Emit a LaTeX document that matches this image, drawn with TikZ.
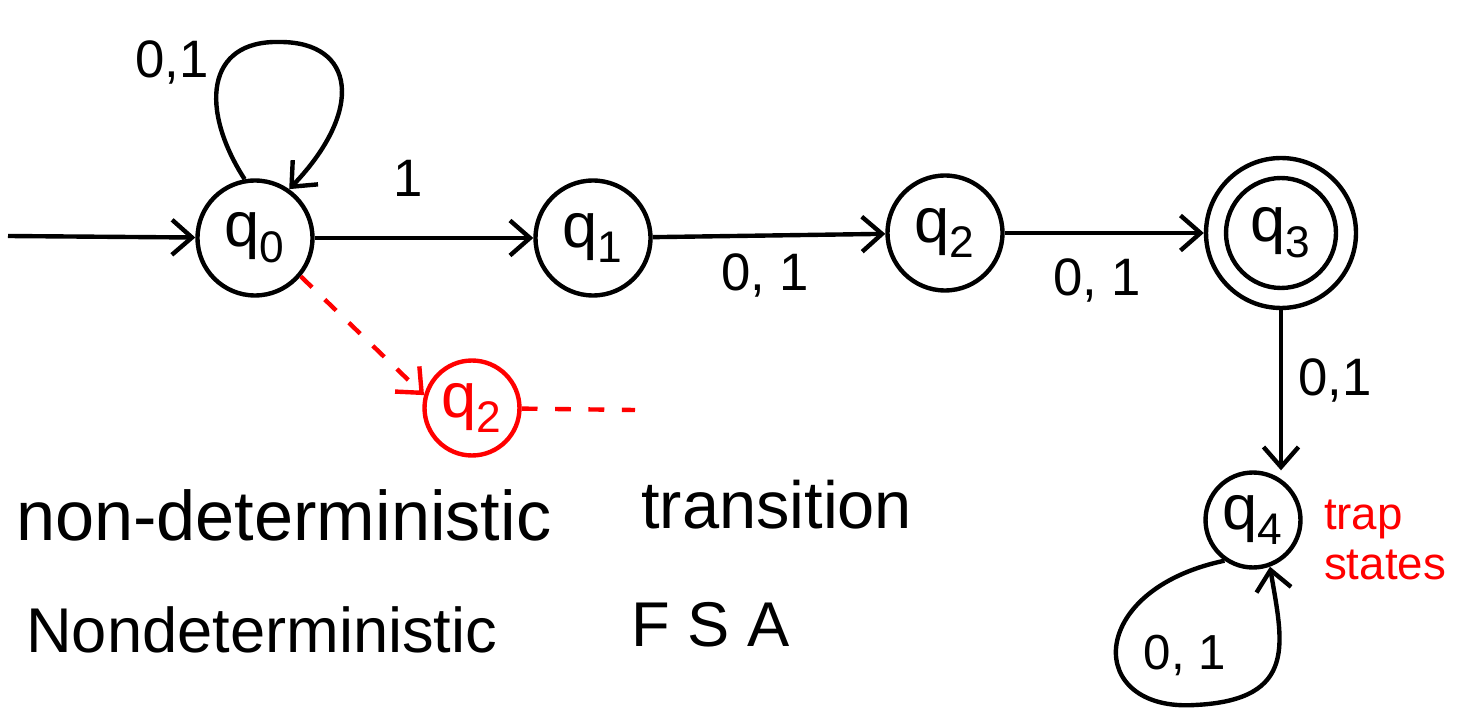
\documentclass[tikz,border=0pt]{standalone}
\usepackage{fontspec}
\setmainfont{Liberation Sans}
\usetikzlibrary{positioning, arrows.meta}

\begin{document}
\begin{tikzpicture}[
                x=0.02cm, y=-0.02cm,
                every node/.style={
                        font=\fontsize{30}{36}\selectfont
                    },
                state/.style={
                        draw,
                        circle,
                        line width=2.5pt,
                        minimum size=2.3cm,
                        inner sep=0pt,
                        font=\fontsize{36}{40}\selectfont
                    },
                edge/.style={
                        line width=2.5pt,
                        -{Straight Barb[length=4mm, width=7mm]}
                    },
                reddash/.style={
                        red,
                        dash pattern=on 9pt off 10pt
                    },
                note/.style={
                        text=red,
                        align=left,
                        font=\fontsize{26}{28}\selectfont
                    }
            ]
            \useasboundingbox (0,0) rectangle (1463,709);


            \node[state] (q0) at (255,238) {q\textsubscript{0}};
            \node[state] (q1) at (593,238) {q\textsubscript{1}};
            \node[state] (q2) at (945,233) {q\textsubscript{2}};
            \node[state, minimum size=3cm] (q3) at (1281,233) {};
            \node[state, minimum size=2.2cm] (q3in) at (q3.center) {q\textsubscript{3}};
            \node[state, minimum size=1.9cm] (q4) at (1253,520) {q\textsubscript{4}};
            \node[state, red, text=red, minimum size=1.9cm] (q2x) at (472,408) {q\textsubscript{2}};
            \coordinate (start) at (8,236);
            \coordinate (redend) at (635,410);


            \draw[edge] (start) -- (q0);
            \draw[edge] (q0.100) .. controls (200,110) and (205,40) .. (280,42)
                        .. controls (355,42) and (365,110) .. (q0.55);
            \draw[edge] (q0) -- (q1);
            \draw[edge] (q1) -- (q2);
            \draw[edge] (q2) -- (q3);
            \draw[edge] (q3.south) -- (q3.south |- q4.north);
            \draw[edge] (q4.235) .. controls (1085,590) and (1085,712) .. (1195,705)
                        .. controls (1300,700) and (1282,640) .. (q4.-70);


            \draw[edge, reddash] (q0.-40) -- (q2x.165);
            \draw[line width=2.5pt, reddash] (q2x) -- (redend);


            \node at (172,62) {0,1};
            \node at (408,178) {1};
            \node at (765,275) {0, 1};
            \node at (1097,280) {0, 1};
            \node at (1335,380) {0,1};
            \node[font=\fontsize{28}{32}\selectfont] at (1185,655) {0, 1};
            \node[note] (trap) at (1385,540) {trap\\states};


            \node[anchor=west, font=\fontsize{40}{44}\selectfont] (ndt) at (10,515) {non-deterministic};
            \node[anchor=west, font=\fontsize{38}{42}\selectfont] (trn) at (635,505) {transition};
            \node[anchor=west, font=\fontsize{36}{40}\selectfont] (nfsa) at (20,630) {Nondeterministic};
            \node[anchor=west, font=\fontsize{36}{40}\selectfont] (fsa) at (625,625) {F S A};


        \end{tikzpicture}
\end{document}
